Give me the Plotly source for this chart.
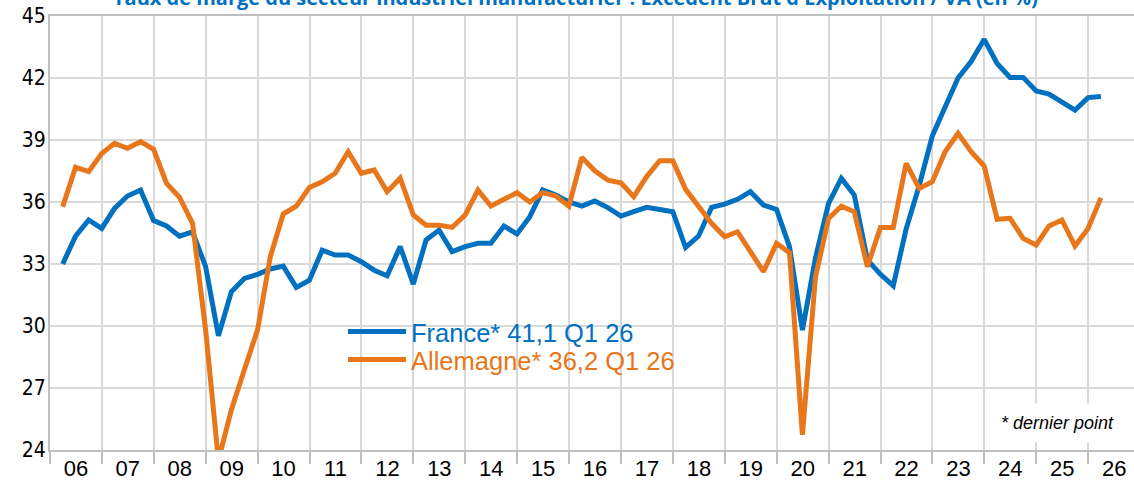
import pandas as pd
import plotly.graph_objects as go

# Quarterly data, Q1 2006 -> Q1 2026
quarters = pd.period_range("2006Q1", "2026Q1", freq="Q")
dates = quarters.to_timestamp(how="end").normalize()

france = [
    33.0, 34.35, 35.13, 34.72,   # 2006
    35.69, 36.29, 36.58, 35.1,   # 2007
    34.84, 34.35, 34.56, 32.87,  # 2008
    29.52, 31.66, 32.3, 32.5,    # 2009
    32.76, 32.9, 31.87, 32.22,   # 2010
    33.67, 33.43, 33.43, 33.11,  # 2011
    32.7, 32.43, 33.84, 32.03,   # 2012
    34.16, 34.64, 33.6, 33.84,   # 2013
    34.0, 34.0, 34.84, 34.45,    # 2014
    35.29, 36.58, 36.34, 36.0,   # 2015
    35.8, 36.05, 35.73, 35.32,   # 2016
    35.53, 35.74, 35.64, 35.53,  # 2017
    33.8, 34.35, 35.74, 35.9,    # 2018
    36.13, 36.5, 35.85, 35.64,   # 2019
    33.84, 29.8, 33.3, 35.93,    # 2020
    37.14, 36.34, 33.2, 32.5,    # 2021
    31.95, 34.7, 36.8, 39.2,     # 2022
    40.6, 42.0, 42.8, 43.87,     # 2023
    42.7, 42.03, 42.03, 41.37,   # 2024
    41.22, 40.85, 40.45, 41.05,  # 2025
    41.1,                        # 2026
]

allemagne = [
    35.77, 37.68, 37.47, 38.35,  # 2006
    38.84, 38.6, 38.92, 38.55,   # 2007
    36.9, 36.23, 34.97, 29.8,    # 2008
    23.5, 25.94, 27.9, 29.8,     # 2009
    33.35, 35.42, 35.8, 36.7,    # 2010
    36.98, 37.39, 38.43, 37.39,  # 2011
    37.55, 36.5, 37.15, 35.37,   # 2012
    34.88, 34.88, 34.77, 35.37,  # 2013
    36.58, 35.8, 36.13, 36.45,   # 2014
    36.0, 36.45, 36.29, 35.8,    # 2015
    38.16, 37.51, 37.06, 36.93,  # 2016
    36.26, 37.23, 38.0, 38.0,    # 2017
    36.61, 35.78, 34.97, 34.32,  # 2018
    34.56, 33.6, 32.63, 34.0,    # 2019
    33.55, 24.73, 32.38, 35.2,   # 2020
    35.8, 35.53, 32.87, 34.77,   # 2021
    34.77, 37.87, 36.66, 36.98,  # 2022
    38.43, 39.32, 38.43, 37.74,  # 2023
    35.16, 35.21, 34.24, 33.92,  # 2024
    34.84, 35.13, 33.87, 34.72,  # 2025
    36.2,                        # 2026
]

BLUE = "#0070C0"
ORANGE = "#E8761A"
GRID = "#D9D9D9"
AXIS = "#BFBFBF"

title_text = "Taux de marge du secteur industriel manufacturier : Excédent Brut d'Exploitation / VA (en %)"
name_fr = "France* 41,1 Q1 26"
name_de = "Allemagne* 36,2 Q1 26"
note_text = "* dernier point"

# plot-area geometry (pixels) used to place overlays in paper coordinates
L, R, T, B = 50, 0, 16, 37
W, H = 1134, 487
PW, PH = W - L - R, H - T - B


def px(x):
    return (x - L) / PW


def py(y):
    return (H - B - y) / PH


fig = go.Figure()
fig.add_trace(go.Scatter(
    x=dates, y=france, mode="lines",
    name=f"<span style='color:{BLUE}'>{name_fr}</span>",
    line=dict(color=BLUE, width=5), legend="legend",
))
fig.add_trace(go.Scatter(
    x=dates, y=allemagne, mode="lines",
    name=f"<span style='color:{ORANGE}'>{name_de}</span>",
    line=dict(color=ORANGE, width=5), legend="legend2",
))

legend_common = dict(
    xanchor="left", yanchor="middle",
    bgcolor="rgba(0,0,0,0)", font=dict(size=25.5, family="Liberation Sans, Arial, sans-serif"),
    itemwidth=58,
)

fig.update_layout(
    width=W, height=H,
    margin=dict(l=L, r=R, t=T, b=B),
    paper_bgcolor="white", plot_bgcolor="white",
    font=dict(family="Liberation Sans, Arial, sans-serif", color="black"),
    showlegend=True,
    legend=dict(x=px(343), y=py(332), **legend_common),
    legend2=dict(x=px(343), y=py(360), **legend_common),
    xaxis=dict(
        type="date",
        range=["2006-01-01", "2026-11-19"],
        dtick="M12", tick0="2006-01-01",
        tickformat="%y", ticklabelmode="period",
        showgrid=True, gridcolor=GRID, gridwidth=2,
        showline=True, linecolor=AXIS, linewidth=2, mirror=True,
        ticks="outside", ticklen=12, tickcolor=AXIS, tickwidth=2,
        tickfont=dict(size=22, color="black"),
        ticklabelstandoff=-14,
        zeroline=False, automargin=False,
    ),
    yaxis=dict(
        range=[24, 45], dtick=3, tick0=24,
        showgrid=True, gridcolor=GRID, gridwidth=2,
        showline=True, linecolor=AXIS, linewidth=2,
        ticks="", tickfont=dict(size=21, color="black",
                                family="Liberation Sans Narrow, DejaVu Sans Condensed, Arial, sans-serif"),
        ticklabelstandoff=-2,
        zeroline=False, automargin=False,
    ),
    shapes=[dict(
        type="rect", xref="paper", yref="paper",
        x0=px(335), x1=px(740), y0=py(383), y1=py(313),
        fillcolor="white", line=dict(width=0), layer="between",
    )],
)

fig.add_annotation(
    text=f"<b>{title_text}</b>",
    xref="paper", yref="paper", x=px(575), y=1, xanchor="center", yanchor="bottom",
    yshift=3, showarrow=False,
    font=dict(size=20, color=BLUE, family="Open Sans, Liberation Sans, sans-serif"),
)

fig.add_annotation(
    text=f"<i>{note_text}</i>",
    xref="paper", yref="paper", x=px(1057), y=py(423),
    xanchor="center", yanchor="middle", showarrow=False,
    bgcolor="white", borderpad=9,
    font=dict(size=18, color="black", family="Liberation Sans, Arial, sans-serif"),
)

fig.write_html(
    "out.html",
    config={"displayModeBar": False},
    post_script="document.body.style.margin='0';document.body.style.overflow='hidden';",
)
